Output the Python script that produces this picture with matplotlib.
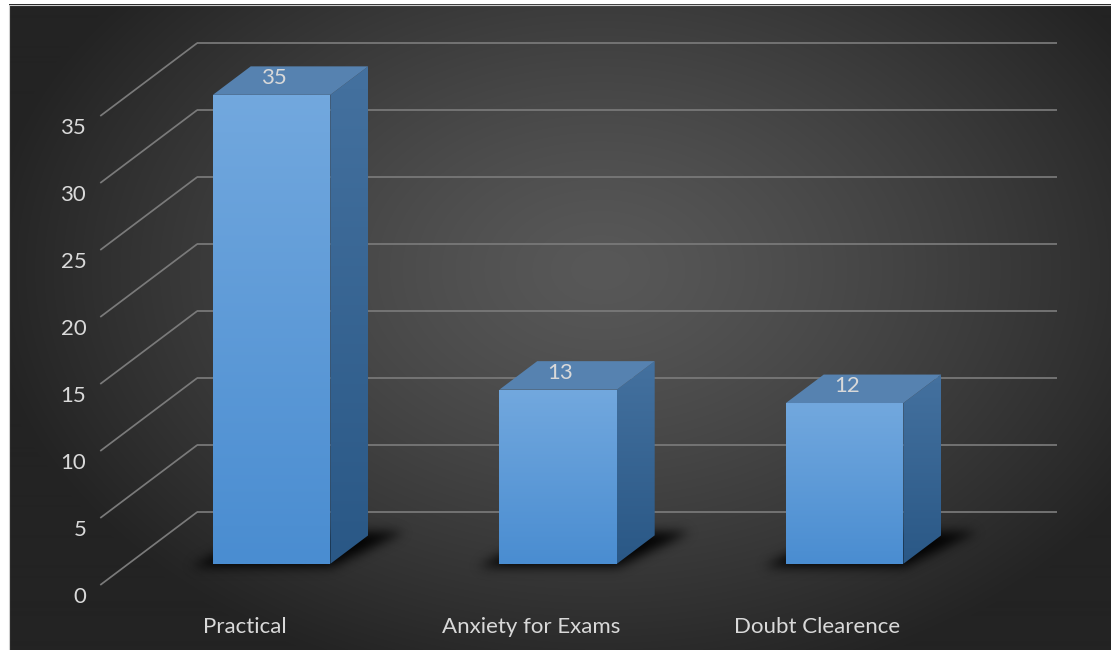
import numpy as np
import matplotlib
matplotlib.use("Agg")
import matplotlib.pyplot as plt
from matplotlib.patches import Polygon
from matplotlib.path import Path
from matplotlib.colors import to_rgb

# ---- data ----
categories = ["Practical", "Anxiety for Exams", "Doubt Clearence"]
values = [35, 13, 12]
y_ticks = [0, 5, 10, 15, 20, 25, 30, 35]

# ---- figure / projection setup ----
W, H = 1111, 650
fig = plt.figure(figsize=(W / 100, H / 100), dpi=100)
fig.patch.set_facecolor("white")
ax = fig.add_axes([0, 0, 1, 1])
ax.set_axis_off()

CAT_PX = 286.5      # pixels per category step
VAL_PX = 13.4       # pixels per value unit
ORIGIN_X = 243.5    # category 0 on the front plane
ORIGIN_Y = 585.0    # value 0 on the front plane (from top)
ax.set_xlim(-ORIGIN_X / CAT_PX, (W - ORIGIN_X) / CAT_PX)
ax.set_ylim(-(H - ORIGIN_Y) / VAL_PX, ORIGIN_Y / VAL_PX)

DEPTH_X = 97.0 / CAT_PX   # oblique depth shift in category units
DEPTH_Y = 73.0 / VAL_PX   # oblique depth shift in value units
BAR_W = 0.41
BAR_D0, BAR_D1 = 0.29, 0.68
CAT_MIN, CAT_MAX = -0.5, len(categories) - 0.5


def proj(c, v, d):
    return (c + d * DEPTH_X, v + d * DEPTH_Y)


def px2data(px, py):
    return ((px - ORIGIN_X) / CAT_PX, (ORIGIN_Y - py) / VAL_PX)


FONT = "Lato"
TXT = "#d9d9d9"
FS = 16

# ---- background panel with radial shading ----
x0p, y0p = 9, 5
gx, gy = np.meshgrid(np.arange(x0p, W), np.arange(y0p, H))
r = np.sqrt(((gx - 600) / 620.0) ** 2 + ((gy - 270) / 430.0) ** 2)
t = np.clip(r, 0, 1) ** 1.3
c_in, c_out = np.array(to_rgb("#585858")), np.array(to_rgb("#232323"))
bg = c_in[None, None, :] * (1 - t[..., None]) + c_out[None, None, :] * t[..., None]
(l, tp), (rr, bt) = px2data(x0p, y0p), px2data(W, H)
ax.imshow(bg, extent=(l, rr, bt, tp), origin="upper", aspect="auto",
          zorder=0, interpolation="bilinear")
# thin frame on the top and left edges of the panel
ax.plot([l, l, rr], [bt, tp, tp], color="#cfcfcf", lw=0.8, zorder=0.5)

# ---- gridlines: diagonal on side wall + horizontal on back wall ----
GRID = "#7a7a7a"
for v in y_ticks:
    a, b = proj(CAT_MIN, v, 0), proj(CAT_MIN, v, 1)
    ax.plot([a[0], b[0]], [a[1], b[1]], color=GRID, lw=1.25, zorder=1,
            solid_capstyle="butt")
    c = proj(CAT_MAX, v, 1)
    ax.plot([b[0], c[0]], [b[1], c[1]], color=GRID, lw=1.25, zorder=1,
            solid_capstyle="butt")
    ax.annotate(str(v), xy=a, xytext=(-14, -12), textcoords="offset pixels",
                ha="right", va="center", color=TXT, fontsize=FS,
                family=FONT, zorder=5)

# ---- soft shadows under the bars ----
disp = np.column_stack([gx.ravel() + 0.5, (H - gy.ravel() - 0.5)])
mask = np.zeros(gx.size)
for i, v in enumerate(values):
    corners = [proj(i - BAR_W / 2 - 0.06, 0, BAR_D0 - 0.04),
               proj(i + BAR_W / 2 + 0.02, 0, BAR_D0 - 0.04),
               proj(i + BAR_W / 2 + 0.11, 0, BAR_D1 + 0.05),
               proj(i - BAR_W / 2 + 0.02, 0, BAR_D1 + 0.05)]
    pts = ax.transData.transform(corners)
    mask = np.maximum(mask, Path(pts).contains_points(disp).astype(float))
mask = mask.reshape(gx.shape)


def blur(a, sigma):
    k = np.arange(-int(3 * sigma), int(3 * sigma) + 1)
    w = np.exp(-k ** 2 / (2 * sigma ** 2))
    w /= w.sum()
    for axis in (0, 1):
        out = np.zeros_like(a)
        for kk, ww in zip(k, w):
            out += ww * np.roll(a, kk, axis=axis)
        a = out
    return a


mask = blur(mask, 5.5)
shadow = np.zeros(mask.shape + (4,))
shadow[..., 3] = np.clip(mask * 0.95, 0, 1)
ax.imshow(shadow, extent=(l, rr, bt, tp), origin="upper", aspect="auto",
          zorder=2, interpolation="bilinear")


# ---- bars ----
def grad_face(verts, top_col, bot_col, z):
    poly = Polygon(verts, closed=True, facecolor="none", edgecolor="none",
                   transform=ax.transData, zorder=z)
    ax.add_patch(poly)
    xs, ys = zip(*verts)
    n = 64
    ct, cb = np.array(to_rgb(top_col)), np.array(to_rgb(bot_col))
    f = np.linspace(0, 1, n)[:, None]
    img = (ct * (1 - f) + cb * f)[:, None, :].repeat(2, axis=1)
    im = ax.imshow(img, extent=(min(xs), max(xs), min(ys), max(ys)),
                   origin="upper", aspect="auto", zorder=z,
                   interpolation="bilinear")
    im.set_clip_path(poly)


for i, v in enumerate(values):
    xl, xr = i - BAR_W / 2, i + BAR_W / 2
    front = [proj(xl, 0, BAR_D0), proj(xr, 0, BAR_D0),
             proj(xr, v, BAR_D0), proj(xl, v, BAR_D0)]
    side = [proj(xr, 0, BAR_D0), proj(xr, 0, BAR_D1),
            proj(xr, v, BAR_D1), proj(xr, v, BAR_D0)]
    top = [proj(xl, v, BAR_D0), proj(xr, v, BAR_D0),
           proj(xr, v, BAR_D1), proj(xl, v, BAR_D1)]
    grad_face(side, "#44719f", "#2a5886", 3)
    grad_face(front, "#72a8de", "#4a8dd1", 3.1)
    ax.add_patch(Polygon(top, closed=True, facecolor="#5682b0",
                         edgecolor="none", zorder=3.2))
    ax.annotate(str(v), xy=proj(i, v, BAR_D0), xytext=(2, 17),
                textcoords="offset pixels", ha="center", va="center",
                color=TXT, fontsize=FS, family=FONT, zorder=5)
    ax.annotate(categories[i], xy=proj(i, 0, 0), xytext=(1, -42),
                textcoords="offset pixels", ha="center", va="center",
                color=TXT, fontsize=FS, family=FONT, zorder=5)

fig.savefig("out.png", dpi=100, facecolor="white")
